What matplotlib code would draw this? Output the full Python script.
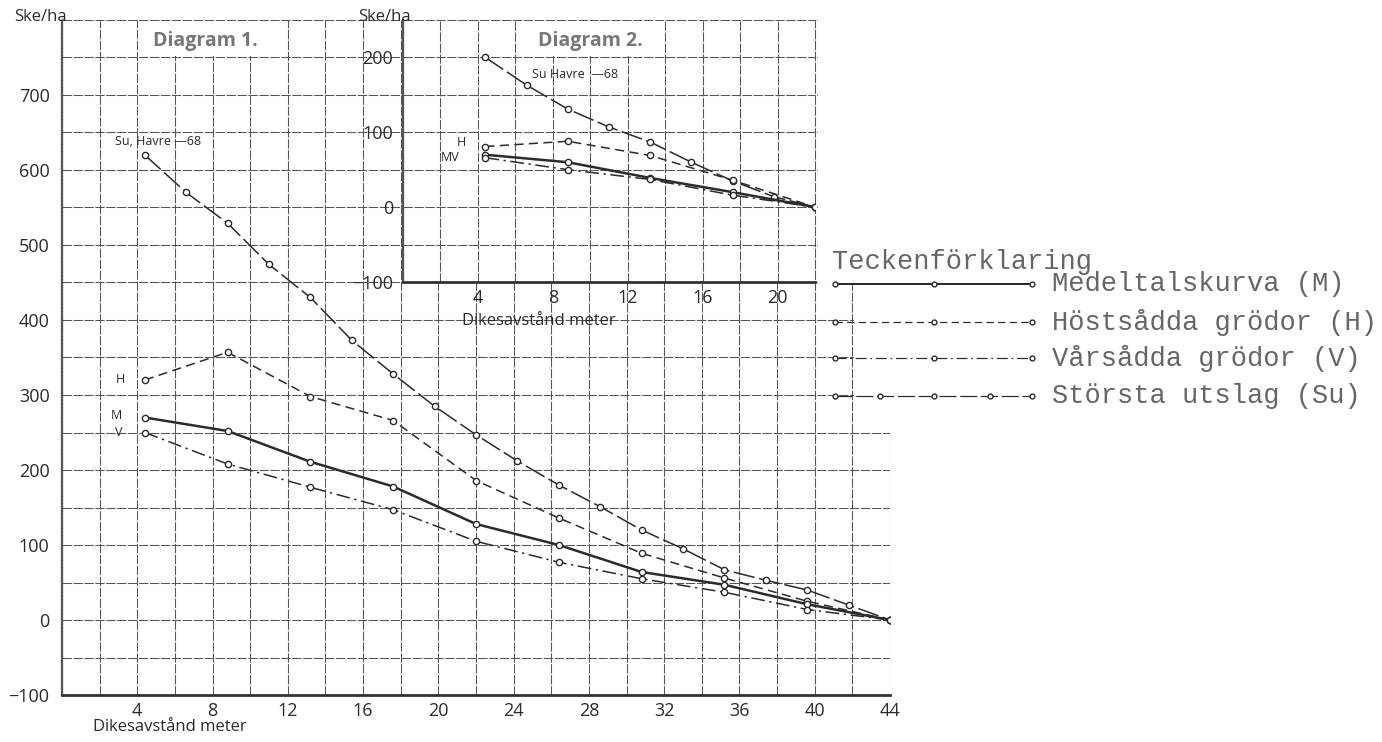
import numpy as np
import matplotlib.pyplot as plt
from matplotlib.patches import Rectangle

# Diagram 1 (huvuddiagram)
x_su_main = [4.4, 6.6, 8.8, 11.0, 13.2, 15.4, 17.6, 19.8, 22.0, 24.2, 26.4,
             28.6, 30.8, 33.0, 35.2, 37.4, 39.6, 41.8, 44.0]
su_main = [620, 570, 529, 474, 430, 373, 328, 285, 247, 212, 180,
           151, 120, 95, 67, 53, 40, 20, 0]
x_main = [4.4, 8.8, 13.2, 17.6, 22.0, 26.4, 30.8, 35.2, 39.6, 44.0]
m_main = [270, 252, 211, 178, 128, 100, 64, 47, 21, 0]
h_main = [320, 357, 298, 266, 186, 136, 89, 56, 25, 0]
v_main = [250, 208, 177, 147, 105, 77, 55, 37, 14, 0]

# Diagram 2 (infällt)
x_su_ins = [4.4, 6.6, 8.8, 11.0, 13.2, 15.4, 17.6, 19.8, 22.0]
su_ins = [200, 163, 131, 107, 87, 60, 35, 14, 0]
x_ins = [4.4, 8.8, 13.2, 17.6, 22.0]
h_ins = [81, 88, 69, 36, 0]
m_ins = [70, 60, 39, 20, 0]
v_ins = [66, 50, 37, 16, 0]

legend_labels = ["Medeltalskurva (M)", "Höstsådda grödor (H)",
                 "Vårsådda grödor (V)", "Största utslag (Su)"]

plt.rcParams['font.family'] = ['Open Sans', 'DejaVu Sans']
ink = '#2b2b2b'
gridc = '#555555'

styles = {
    'M': dict(linestyle='-', lw=1.8),
    'H': dict(linestyle=(0, (6, 3.5)), lw=1.1),
    'V': dict(linestyle=(0, (9, 3, 1.5, 3)), lw=1.1),
    'Su': dict(linestyle=(0, (14, 3)), lw=1.1),
}
mk = dict(marker='o', markersize=4.5, markerfacecolor='white',
          markeredgecolor=ink, markeredgewidth=1.0, color=ink)

fig = plt.figure(figsize=(13.82, 7.42), dpi=100)


def style_axes(ax, xmax, ymin, ymax, xt, yt):
    ax.set_xlim(0, xmax)
    ax.set_ylim(ymin, ymax)
    ax.set_xticks(xt)
    ax.set_xticks(np.arange(0, xmax + 0.1, 2), minor=True)
    ax.set_yticks(yt)
    ax.set_yticks(np.arange(ymin, ymax + 1, 50), minor=True)
    ax.grid(True, which='both', color=gridc, lw=0.75, linestyle=(0, (9, 1.5)))
    ax.set_axisbelow(True)
    ax.tick_params(which='both', length=0, labelsize=13, colors=ink)
    ax.set_yticklabels([str(v).replace('-', '\u2212') for v in yt])
    for s in ['top', 'right']:
        ax.spines[s].set_visible(False)
    ax.spines['left'].set_linestyle((0, (1, 0.6)))
    ax.spines['left'].set_linewidth(1.6)
    ax.spines['left'].set_color('#555555')
    ax.spines['bottom'].set_linewidth(2.0)
    ax.spines['bottom'].set_color('#333333')


# ---- Diagram 1
ax = fig.add_axes([62 / 1382, 1 - 695 / 742, 828 / 1382, 675 / 742])
style_axes(ax, 44, -100, 800, np.arange(4, 45, 4), list(range(-100, 701, 100)))
ax.tick_params(axis='x', pad=5)
ax.tick_params(axis='y', pad=9)

ax.add_patch(Rectangle((40.15, 449), 5, 360, facecolor='white', edgecolor='none',
                       zorder=1, clip_on=False))
ax.add_patch(Rectangle((42.1, 252), 3, 200, facecolor='white', edgecolor='none',
                       zorder=1, clip_on=False))
ax.add_patch(Rectangle((4.12, 752), 7.76, 46, facecolor='white', edgecolor='none',
                       zorder=1))
ax.text(7.6, 772, "Diagram 1.", fontsize=14, color='#777777', ha='center',
        va='center', fontweight='bold')

ax.plot(x_su_main, su_main, **styles['Su'], **mk)
ax.plot(x_main, h_main, **styles['H'], **mk)
ax.plot(x_main, m_main, **styles['M'], **mk)
ax.plot(x_main, v_main, **styles['V'], **mk)

ax.text(2.8, 638, "Su, Havre \u201468", fontsize=9, color=ink, va='center')
ax.text(3.1, 321, "H", fontsize=9, color=ink, va='center', ha='center')
ax.text(2.9, 272, "M", fontsize=9, color=ink, va='center', ha='center')
ax.text(3.0, 250, "V", fontsize=9, color=ink, va='center', ha='center')

ax.set_xlabel("Dikesavstånd meter", fontsize=12, color=ink)
ax.xaxis.set_label_coords(0.13, -0.036)

# ---- Diagram 2
ax2 = fig.add_axes([403 / 1382, 1 - 282 / 742, 412 / 1382, 262 / 742])
ax2.set_facecolor('white')
style_axes(ax2, 22, -100, 250, [4, 8, 12, 16, 20], [-100, 0, 100, 200])
ax2.tick_params(axis='x', pad=5)
ax2.tick_params(axis='y', pad=7)
ax2.add_patch(Rectangle((6.1, 202), 7.8, 46, facecolor='white', edgecolor='none',
                        zorder=1))
ax2.text(10.0, 222, "Diagram 2.", fontsize=14, color='#777777', ha='center',
         va='center', fontweight='bold')

ax2.plot(x_su_ins, su_ins, **styles['Su'], **mk)
ax2.plot(x_ins, h_ins, **styles['H'], **mk)
ax2.plot(x_ins, m_ins, **styles['M'], **mk)
ax2.plot(x_ins, v_ins, **styles['V'], **mk)

ax2.text(6.9, 177, "Su Havre  \u201468", fontsize=9, color=ink, va='center')
ax2.text(3.1, 86, "H", fontsize=9, color=ink, va='center', ha='center')
ax2.text(2.5, 66, "MV", fontsize=9, color=ink, va='center', ha='center')

ax2.set_xlabel("Dikesavstånd meter", fontsize=12, color=ink)
ax2.xaxis.set_label_coords(0.33, -0.12)

fig.text(40 / 1382, 1 - 17 / 742, "Ske/ha", fontsize=12, color=ink,
         ha='center', va='center')
fig.text(384 / 1382, 1 - 17 / 742, "Ske/ha", fontsize=12, color=ink,
         ha='center', va='center')

# ---- Teckenförklaring
lg = fig.add_axes([0, 0, 1, 1], facecolor='none')
lg.set_xlim(0, 1382)
lg.set_ylim(742, 0)
lg.axis('off')
mono = ['Liberation Mono', 'DejaVu Sans Mono']
txtc = '#666666'
lg.text(832, 262, "Teckenförklaring", family=mono, fontsize=19.5,
        color=txtc, va='center')
rows_y = [284, 322, 358, 396]
keys = ['M', 'H', 'V', 'Su']
for key, label, yy in zip(keys, legend_labels, rows_y):
    if key == 'Su':
        xs = [835, 880, 934, 990, 1032]
    else:
        xs = [835, 934, 1032]
    st = dict(styles[key])
    st['lw'] = st['lw'] * 0.8
    lg.plot(xs, [yy] * len(xs), **st, **dict(mk, markersize=3.5))
    lg.text(1052, yy, label, family=mono, fontsize=19.5, color=txtc,
            va='center')

fig.savefig("out.png", dpi=100)
